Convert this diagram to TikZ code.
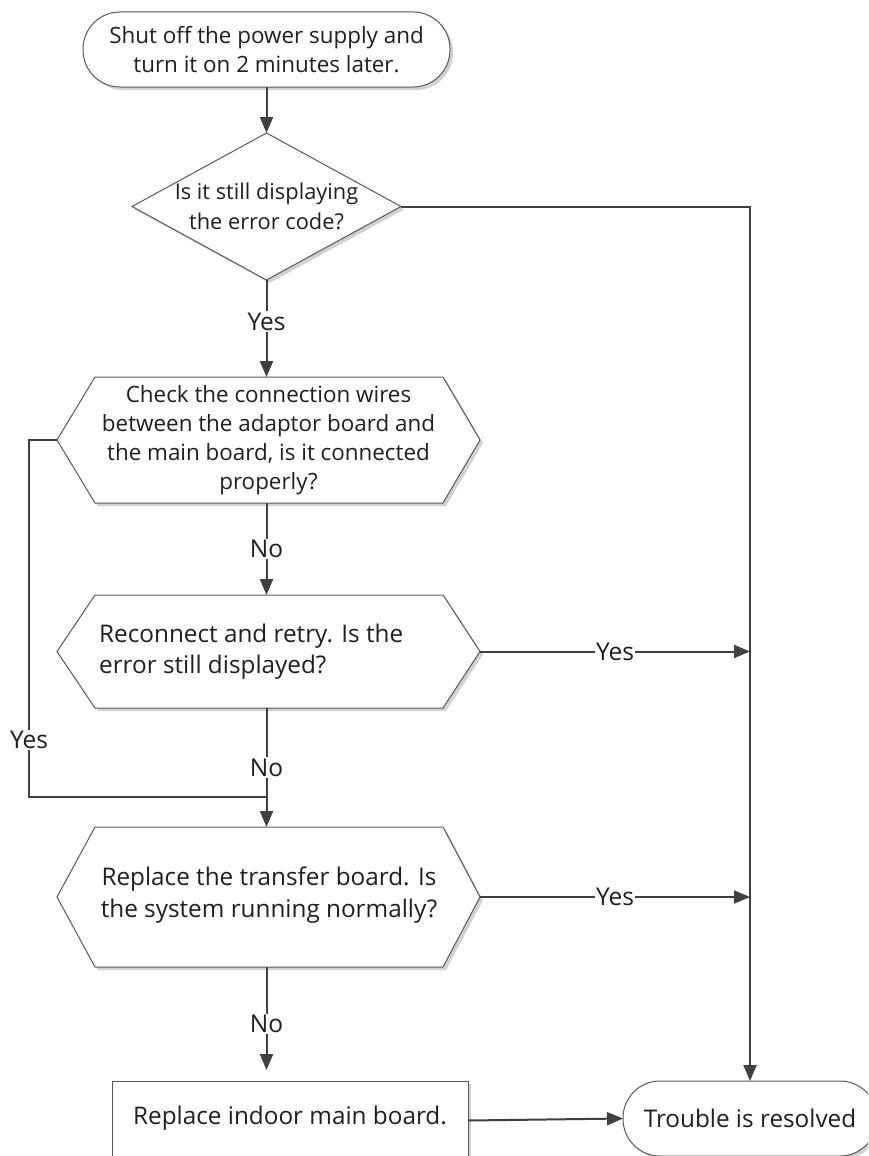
\documentclass[tikz,border=0pt]{standalone}
\usepackage{fontspec}
\setmainfont{Open Sans}
\usetikzlibrary{arrows.meta,shapes.geometric,calc,shadows}
\begin{document}
\begin{tikzpicture}[x=1pt,y=-1pt,
  txt/.style={font=\fontsize{22.4}{29.5}\selectfont, align=center, text=black!88, inner sep=0pt},
  bigtxt/.style={txt, font=\fontsize{24.3}{31}\selectfont},
  shd/.style={drop shadow={shadow xshift=3pt, shadow yshift=-3pt, opacity=0.18, fill=black}},
  shp/.style={draw=black!65, line width=1pt, fill=white, shd},
  box/.style={inner sep=0pt, outer sep=0pt},
  conn/.style={draw=black!75, line width=2pt},
  arr/.style={conn, -{Triangle[length=16pt,width=13pt]}},
  lbl/.style={fill=white, inner sep=1.5pt, font=\fontsize{24.5}{28}\selectfont, text=black!88},
]
\clip (0,0) rectangle (868,1156);
\useasboundingbox (0,0) rectangle (868,1156);

% start terminator
\node[shp, box, rounded corners=37pt, minimum width=367pt, minimum height=75pt] (start) at (266.5,49.5) {};
\node[txt, font=\fontsize{22.4}{29.5}\selectfont] (starttext) at (start.center) {Shut off the power supply and\\turn it on 2 minutes later.};

% decision diamond
\node[shp, box, diamond, aspect=1.83, minimum width=269pt, minimum height=147pt] (dia) at (266.5,206.5) {};
\node[txt, font=\fontsize{21.8}{29.5}\selectfont] (diatext) at (dia.center) {Is it still displaying\\the error code?};

% hexagons
\node[box, minimum width=423pt, minimum height=126pt] (h1) at (268.5,440) {};
\node[box, minimum width=423pt, minimum height=113pt] (h2) at (268.5,651.5) {};
\node[box, minimum width=423pt, minimum height=140pt] (h3) at (268.5,897) {};
\foreach \h in {h1,h2,h3}{
  \path[shp] (\h.west) -- ($(\h.north west)+(38,0)$) -- ($(\h.north east)+(-37,0)$) -- (\h.east)
    -- ($(\h.south east)+(-37,0)$) -- ($(\h.south west)+(38,0)$) -- cycle;
}
\node[txt, font=\fontsize{22.4}{28.8}\selectfont] (h1text) at (h1.center) {Check the connection wires\\between the adaptor board and\\the main board, is it connected\\properly?};
\node[bigtxt, align=left, anchor=west] (h2text) at (99,651.5) {Reconnect and retry. Is the\\error still displayed?};
\node[bigtxt, font=\fontsize{24.3}{32}\selectfont] (h3text) at (269,895) {Replace the transfer board. Is\\the system running normally?};

% end boxes
\node[shp, box, minimum width=356pt, minimum height=79pt] (rect) at (290,1120.5) {};
\node[bigtxt] (recttext) at (290,1118) {Replace indoor main board.};
\node[shp, box, rounded corners=37pt, minimum width=254pt, minimum height=75pt] (trouble) at (750,1118.5) {};
\node[bigtxt] (troubletext) at (trouble.center) {Trouble is resolved};

% connectors
\coordinate (cl) at (29,440);
\coordinate (j) at (266.5,797);
\draw[arr] (start.south) -- (dia.north);
\draw[arr] (dia.south) -- node[lbl, pos=0.43] {Yes} (h1.north -| dia.south);
\draw[arr] (dia.east) -| (trouble.north);
\draw[arr] (h1.south -| dia.south) -- node[lbl] {No} (h2.north -| dia.south);
\draw[arr] (h2.south -| dia.south) -- node[lbl] {No} (h3.north -| dia.south);
\draw[conn] (h1.west) -- (cl) -- node[lbl, pos=0.84] {Yes} (cl |- j) -- (j);
\draw[arr] (h2.east) -- node[lbl] {Yes} (h2.east -| trouble.north);
\draw[arr] (h3.east) -- node[lbl] {Yes} (h3.east -| trouble.north);
\draw[arr, shorten >=11pt] (h3.south -| dia.south) -- node[lbl] {No} (rect.north -| dia.south);
\draw[arr] (rect.east) -- (trouble.west);
\end{tikzpicture}
\end{document}
